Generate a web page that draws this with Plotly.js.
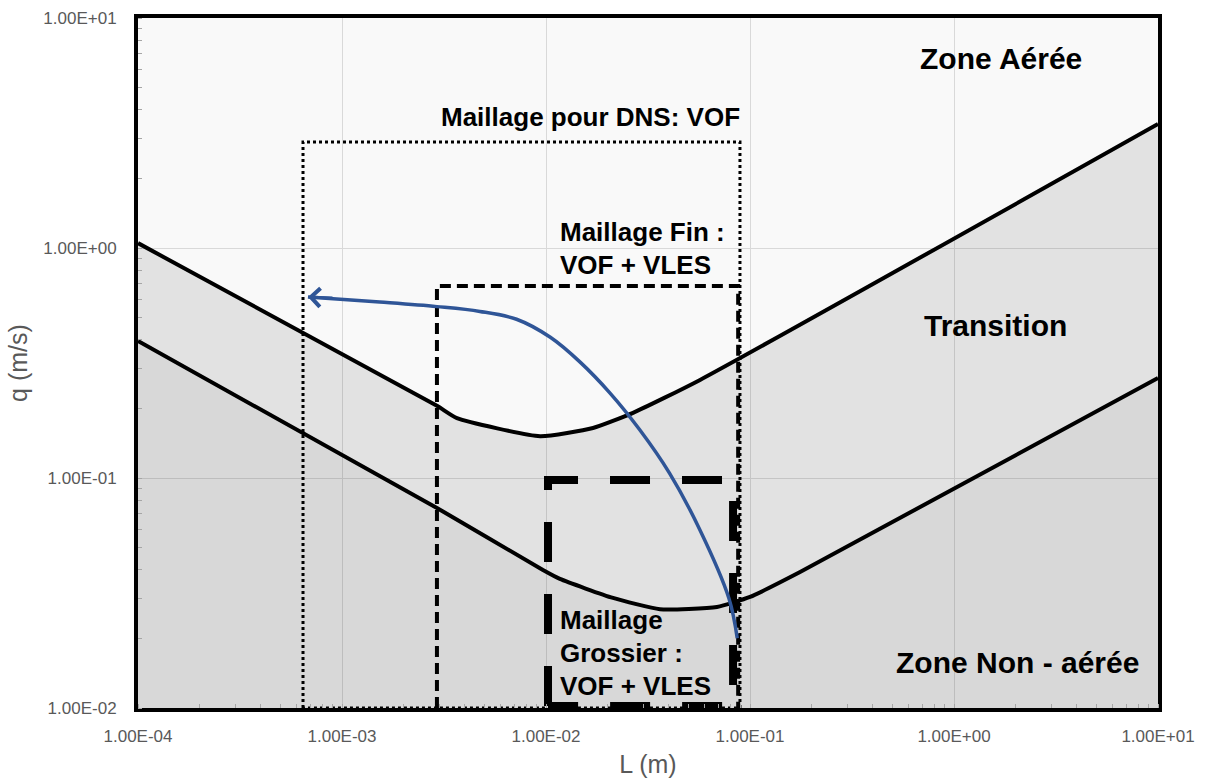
<!DOCTYPE html>
<html>
<head>
<meta charset="utf-8">
<script src="https://cdn.plot.ly/plotly-3.0.1.min.js"></script>
<style>html,body{margin:0;padding:0;background:#fff;}#chart{width:1206px;height:778px;}</style>
</head>
<body>
<div id="chart"></div>
<script>
// ---- data ----
const xTickVals = [1e-4, 1e-3, 1e-2, 1e-1, 1e0, 1e1];
const xTickText = ['1.00E-04', '1.00E-03', '1.00E-02', '1.00E-01', '1.00E+00', '1.00E+01'];
const yTickVals = [1e-2, 1e-1, 1e0, 1e1];
const yTickText = ['1.00E-02', '1.00E-01', '1.00E+00', '1.00E+01'];

const baseL = [1e-4, 10];
const baseQ = [0.01, 0.01];

const upperL = [1e-4, 0.00292, 0.00366, 0.00935, 0.0170, 0.0267, 0.0569, 10];
const upperQ = [1.05, 0.206, 0.182, 0.152, 0.165, 0.192, 0.267, 3.46];

const lowerL = [1e-4, 0.00292, 0.00966, 0.0117, 0.0213, 0.0362, 0.0689, 0.1, 0.176, 10];
const lowerQ = [0.394, 0.0741, 0.0398, 0.0364, 0.0301, 0.0269, 0.0275, 0.0304, 0.039, 0.272];

const blueL = [0.0866, 0.0788, 0.0563, 0.0403, 0.0288, 0.0206, 0.0147, 0.0105, 0.00717, 0.00474, 0.00292, 0.00153, 0.000681];
const blueQ = [0.0201, 0.0300, 0.0605, 0.1050, 0.1620, 0.2340, 0.3190, 0.4090, 0.4900, 0.5300, 0.5560, 0.5820, 0.6120];

const dnsL = [6.44e-4, 6.44e-4, 0.0893, 0.0893, 6.44e-4];
const dnsQ = [0.01, 2.89, 2.89, 0.01, 0.01];
const fineL = [0.00292, 0.00292, 0.0875, 0.0875];
const fineQ = [0.01, 0.684, 0.684, 0.01];
const coarseL = [0.01023, 0.01023, 0.0826, 0.0826, 0.01023];
const coarseQ = [0.0102, 0.098, 0.098, 0.0102, 0.0102];

// ---- traces ----
const traces = [
  {x: baseL, y: baseQ, mode: 'lines', line: {width: 0, color: 'rgba(0,0,0,0)'}, hoverinfo: 'skip'},
  {x: lowerL, y: lowerQ, mode: 'lines', fill: 'tonexty', fillcolor: 'rgba(0,0,0,0.128)',
   line: {color: '#000', width: 4, shape: 'spline', smoothing: 0.5}, hoverinfo: 'skip'},
  {x: upperL, y: upperQ, mode: 'lines', fill: 'tonexty', fillcolor: 'rgba(0,0,0,0.09)',
   line: {color: '#000', width: 4, shape: 'spline', smoothing: 0.5}, hoverinfo: 'skip'},
  {x: dnsL, y: dnsQ, mode: 'lines', line: {color: '#000', width: 3, dash: 'dot'}, hoverinfo: 'skip'},
  {x: fineL, y: fineQ, mode: 'lines', line: {color: '#000', width: 4, dash: '11px,6px'}, hoverinfo: 'skip'},
  {x: coarseL, y: coarseQ, mode: 'lines', line: {color: '#000', width: 8, dash: '40px,32px'}, hoverinfo: 'skip'},
  {x: blueL, y: blueQ, mode: 'lines', line: {color: '#2f5597', width: 3.5, shape: 'spline', smoothing: 1}, hoverinfo: 'skip'}
];

const FAM = 'Liberation Sans, Arial, sans-serif';
const tickFont = {family: FAM, size: 17, color: '#595959'};
const lblFont = (s) => ({family: FAM, size: s, color: '#000', weight: 'bold'});

function txt(text, x, y, size, xanchor) {
  return {text: '<b>' + text + '</b>', xref: 'paper', yref: 'paper', x: x, y: y,
          xanchor: xanchor || 'center', yanchor: 'middle', showarrow: false, font: lblFont(size)};
}
// paper coordinates from pixel positions in a 1020x690 plot area
const px = (p) => (p - 138) / 1020;
const py = (p) => (708 - p) / 690;

const nB = blueL.length - 1;
const annotations = [
  txt('Zone Aérée', px(1001), py(58), 30),
  txt('Maillage pour DNS: VOF', px(590), py(117), 26),
  txt('Maillage Fin :', px(558), py(232), 26, 'left'),
  txt('VOF + VLES', px(558), py(265), 26, 'left'),
  txt('Transition', px(995), py(325), 30),
  txt('Maillage', px(558), py(620), 26, 'left'),
  txt('Grossier :', px(558), py(653), 26, 'left'),
  txt('VOF + VLES', px(558), py(686), 26, 'left'),
  txt('Zone Non - aérée', px(1017), py(662), 30),
  {x: Math.log10(blueL[nB]), y: Math.log10(blueQ[nB]), xref: 'x', yref: 'y', text: '',
   showarrow: true, arrowhead: 4, arrowsize: 1.2, arrowwidth: 3, arrowcolor: '#2f5597',
   ax: 26, ay: 1, standoff: 0}
];

const axisCommon = {
  type: 'log', showgrid: true, gridcolor: '#d9d9d9', gridwidth: 1, zeroline: false,
  showline: true, mirror: true, linewidth: 4, linecolor: '#000', ticks: '',
  tickfont: tickFont, tickmode: 'array',
  minor: {dtick: 'D1', ticks: 'inside', ticklen: 4, tickcolor: '#a6a6a6', tickwidth: 1, showgrid: false}
};

const layout = {
  width: 1206, height: 778,
  margin: {l: 138, r: 48, t: 18, b: 70},
  paper_bgcolor: '#ffffff', plot_bgcolor: '#f9f9f9',
  showlegend: false,
  xaxis: Object.assign({}, axisCommon, {
    range: [-4, 1], tickvals: xTickVals, ticktext: xTickText, ticklabelstandoff: 10,
    title: {text: 'L (m)', font: {family: FAM, size: 25, color: '#595959'}, standoff: 14}
  }),
  yaxis: Object.assign({}, axisCommon, {
    range: [-2, 1], tickvals: yTickVals, ticktext: yTickText, ticklabelstandoff: 14,
    title: {text: 'q (m/s)', font: {family: FAM, size: 25, color: '#595959'}, standoff: 10}
  }),
  annotations: annotations
};

Plotly.newPlot('chart', traces, layout, {displayModeBar: false, staticPlot: true});
</script>
</body>
</html>
